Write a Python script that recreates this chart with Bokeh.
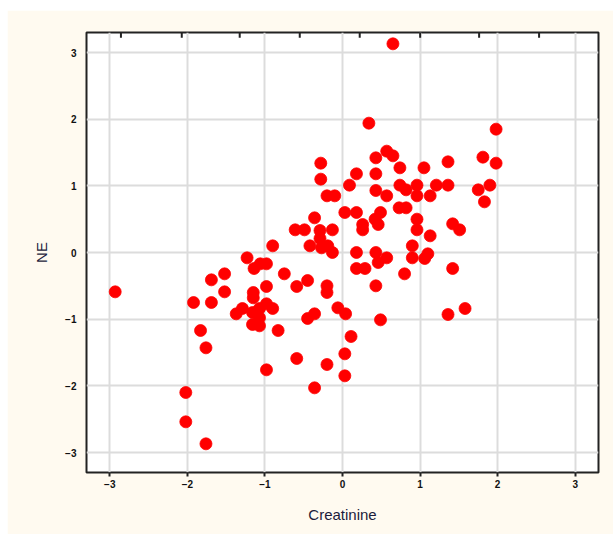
from bokeh.plotting import figure
from bokeh.models import FixedTicker, Range1d, ColumnDataSource
from bokeh.embed import file_html
from bokeh.resources import INLINE

# Data (Creatinine vs NE, standardized)
creatinine = [0.65, 0.34, 1.98, 0.57, 0.65, 0.43, 0.74, 1.05, 1.36, 1.81,
              1.98, -0.28, -0.28, 0.18, 0.43, 0.09, -0.20, -0.10, 0.43, 0.57,
              0.74, 0.82, 0.96, 0.96, 1.13, 1.21, 1.36, 1.75, 1.90, 1.83,
              0.03, 0.18, -0.36, 0.73, 0.82, 0.42, 0.49, 0.46, 0.26, 0.26,
              0.96, 0.96, 1.13, 1.42, 1.51, -0.61, -0.49, -0.29, -0.13, -0.29,
              -0.90, -0.42, -0.27, -0.19, -0.13, 0.18, 0.43, 0.57, 0.46, 0.90,
              0.90, 1.10, 1.06, 0.18, 0.29, 0.80, 1.42, -0.45, -0.20, -0.20,
              0.43, -0.59, -0.06, 0.04, -0.36, -0.45, 0.49, 1.36, 1.58, 0.11,
              0.03, -0.20, 0.03, -0.59, -0.36, -2.93, -2.02, -2.02, -1.76, -1.83,
              -1.76, -1.92, -1.69, -1.69, -1.52, -1.52, -1.37, -1.29, -1.23, -1.14,
              -1.06, -0.98, -1.15, -1.15, -0.98, -1.16, -1.07, -0.98, -0.90, -1.07,
              -1.16, -1.07, -0.83, -0.98, -0.75]
ne = [3.13, 1.94, 1.85, 1.52, 1.45, 1.42, 1.27, 1.27, 1.36, 1.43,
      1.34, 1.34, 1.10, 1.18, 1.18, 1.01, 0.85, 0.85, 0.93, 0.85,
      1.01, 0.94, 1.01, 0.85, 0.85, 1.01, 1.01, 0.94, 1.01, 0.76,
      0.60, 0.60, 0.52, 0.67, 0.67, 0.50, 0.60, 0.42, 0.42, 0.34,
      0.50, 0.34, 0.25, 0.43, 0.34, 0.34, 0.34, 0.33, 0.34, 0.21,
      0.10, 0.10, 0.07, 0.10, 0.00, 0.00, 0.00, -0.08, -0.15, 0.10,
      -0.08, -0.02, -0.09, -0.24, -0.24, -0.32, -0.24, -0.42, -0.50, -0.60,
      -0.50, -0.51, -0.83, -0.92, -0.92, -0.99, -1.01, -0.93, -0.84, -1.26,
      -1.52, -1.68, -1.85, -1.59, -2.03, -0.59, -2.10, -2.54, -2.87, -1.17,
      -1.43, -0.75, -0.75, -0.41, -0.32, -0.59, -0.92, -0.84, -0.08, -0.24,
      -0.17, -0.17, -0.60, -0.68, -0.51, -0.90, -0.84, -0.77, -0.84, -0.98,
      -1.08, -1.10, -1.17, -1.76, -0.32]

x_ticks = [-3, -2, -1, 0, 1, 2, 3]
y_ticks = [-3, -2, -1, 0, 1, 2, 3]
top_ticks = [-2.856, -2.072, -1.325, -0.551, 0.222, 1.001, 1.761, 2.534]

cream = "#fffaf0"
label_color = "#1c1c3c"

xr = Range1d(-3.3, 3.3)
yr = Range1d(-3.3, 3.3)

p = figure(width=606, height=524, margin=(10, 0, 0, 7),
           x_range=xr, y_range=yr,
           output_backend="svg", toolbar_location=None,
           min_border_left=79, min_border_right=15,
           min_border_top=22, min_border_bottom=62)

p.background_fill_color = "white"
p.border_fill_color = cream
p.outline_line_color = "#222222"
p.outline_line_width = 2

# Bottom axis
xa = p.xaxis[0]
xa.ticker = FixedTicker(ticks=x_ticks)
xa.axis_label = "Creatinine"
xa.axis_label_text_font = "Liberation Sans"
xa.axis_label_text_font_size = "15px"
xa.axis_label_text_font_style = "normal"
xa.axis_label_text_color = label_color
xa.axis_label_standoff = 15
xa.major_label_text_font = "Liberation Sans"
xa.major_label_text_font_size = "10px"
xa.major_label_text_font_style = "bold"
xa.major_label_text_color = "#111111"
xa.major_label_standoff = 3
xa.major_tick_in = 0
xa.major_tick_out = 4
xa.major_tick_line_color = "#222222"
xa.major_tick_line_width = 2
xa.minor_tick_line_color = None
xa.axis_line_color = None

# Left axis
ya = p.yaxis[0]
ya.ticker = FixedTicker(ticks=y_ticks)
ya.axis_label = "NE"
ya.axis_label_text_font = "Liberation Sans"
ya.axis_label_text_font_size = "15px"
ya.axis_label_text_font_style = "normal"
ya.axis_label_text_color = label_color
ya.axis_label_standoff = 12
ya.major_label_text_font = "Liberation Sans"
ya.major_label_text_font_size = "10px"
ya.major_label_text_font_style = "bold"
ya.major_label_text_color = "#111111"
ya.major_label_standoff = 10
ya.major_label_orientation = "horizontal"
ya.major_tick_in = 0
ya.major_tick_out = 0
ya.minor_tick_line_color = None
ya.axis_line_color = None

p.xgrid.grid_line_color = "#dcdcdc"
p.xgrid.grid_line_width = 2
p.ygrid.grid_line_color = "#dcdcdc"
p.ygrid.grid_line_width = 2

# Inward tick marks along the top edge (about 5 px long)
tick_len = 0.08
top_src = ColumnDataSource(data=dict(
    x=top_ticks,
    y0=[yr.end] * len(top_ticks),
    y1=[yr.end - tick_len] * len(top_ticks)))
p.segment(x0="x", y0="y0", x1="x", y1="y1", source=top_src,
          line_color="#222222", line_width=2)

src = ColumnDataSource(data=dict(x=creatinine, y=ne))
p.scatter("x", "y", source=src, size=12, marker="circle",
          fill_color="#ff0000", line_color="#ff0000", line_width=0.8)

open("out.html", "w").write(file_html(p, INLINE))
